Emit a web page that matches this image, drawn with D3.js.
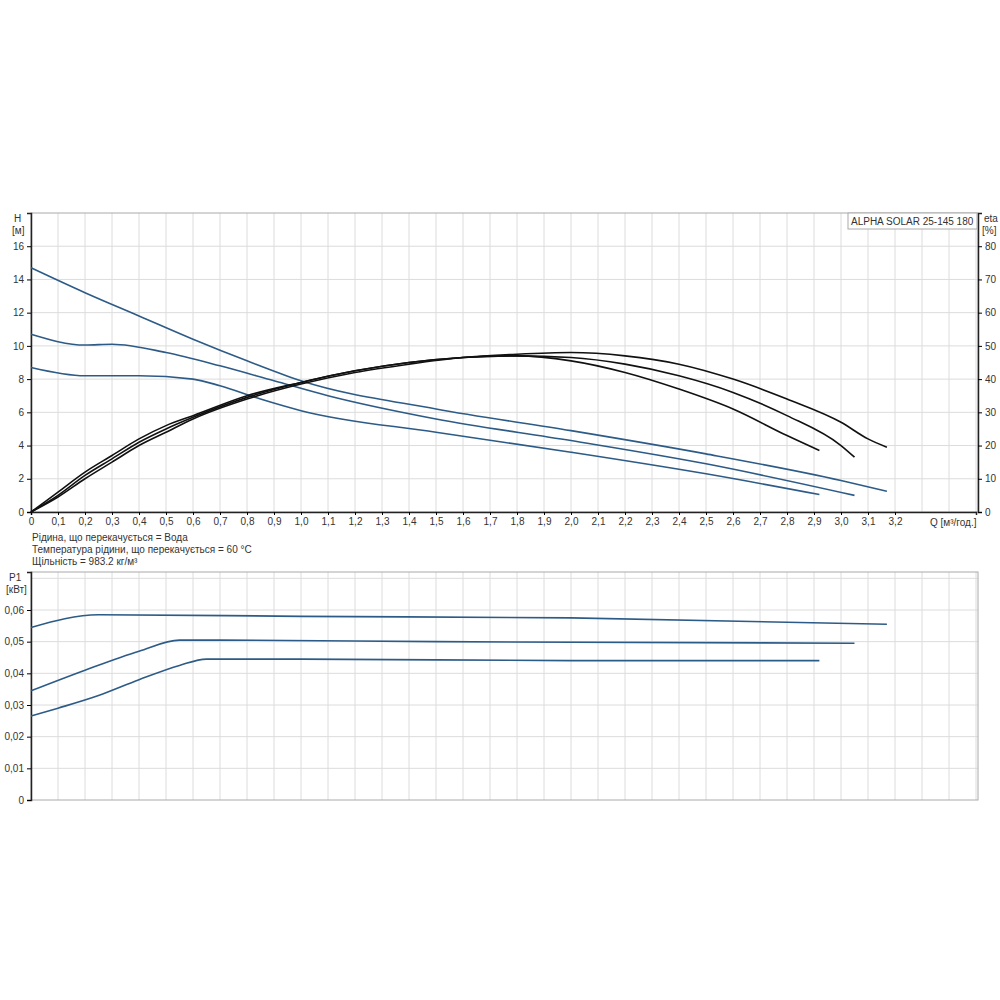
<!DOCTYPE html>
<html><head><meta charset="utf-8">
<script src="https://cdn.jsdelivr.net/npm/d3@7"></script>
<style>body{margin:0;background:#fff}text{font-family:"Liberation Sans",Arial,sans-serif;fill:#333}</style>
</head><body><svg id="c" width="1000" height="1000"></svg>
<script>
// Q [m3/h] and head curves
var hQ1 = [0, 0.2, 0.4, 0.6, 0.8, 1.0, 1.5, 2.0, 2.5, 3.0, 3.17];
var hH1 = [14.7, 13.2, 11.8, 10.4, 9.1, 7.9, 6.2, 4.9, 3.5, 1.9, 1.25];
var hQ2 = [0, 0.2, 0.3, 0.5, 0.7, 0.9, 1.1, 1.5, 2.0, 2.5, 3.05];
var hH2 = [10.7, 10.05, 10.1, 9.6, 8.8, 7.9, 7.0, 5.6, 4.3, 2.9, 1.0];
var hQ3 = [0, 0.2, 0.4, 0.6, 0.7, 0.85, 1.0, 1.5, 2.0, 2.5, 2.92];
var hH3 = [8.7, 8.2, 8.2, 8.0, 7.6, 6.8, 6.1, 4.8, 3.6, 2.3, 1.05];

// efficiency curves [%]
var eQ1 = [0, 0.1, 0.2, 0.3, 0.4, 0.5, 0.6, 0.8, 1.0, 1.2, 1.4, 1.6, 1.8, 2.0, 2.2, 2.4, 2.6, 2.8, 2.92];
var eE1 = [0, 6, 12, 17, 22, 26, 29, 35, 39, 42.5, 45, 46.5, 47, 45.5, 42, 37, 31, 23, 18.5];
var eQ2 = [0, 0.1, 0.2, 0.3, 0.4, 0.5, 0.6, 0.8, 1.0, 1.2, 1.4, 1.6, 1.8, 2.0, 2.2, 2.4, 2.6, 2.8, 3.0, 3.05];
var eE2 = [0, 5, 11, 16, 21, 25, 28.5, 34.5, 39, 42.5, 45, 46.5, 47, 46.5, 44.5, 41, 36, 29, 20, 16.5];
var eQ3 = [0, 0.1, 0.2, 0.3, 0.4, 0.5, 0.6, 0.8, 1.0, 1.2, 1.4, 1.6, 1.8, 2.0, 2.2, 2.4, 2.6, 2.8, 3.0, 3.1, 3.17];
var eE3 = [0, 4.5, 10, 15, 20, 24, 28, 34, 38.5, 42, 44.5, 46.5, 47.5, 48, 47, 44.5, 40, 34, 27, 22, 19.5];

// power curves [kW]
var pQ1 = [0, 0.25, 1.0, 2.0, 3.17];
var pP1 = [0.0545, 0.0585, 0.058, 0.0575, 0.0555];
var pQ2 = [0, 0.2, 0.4, 0.55, 0.7, 1.5, 3.05];
var pP2 = [0.0345, 0.041, 0.047, 0.0505, 0.0505, 0.050, 0.0495];
var pQ3 = [0, 0.1, 0.25, 0.4, 0.55, 0.65, 1.0, 2.0, 2.92];
var pP3 = [0.0265, 0.029, 0.033, 0.038, 0.0425, 0.0445, 0.0445, 0.044, 0.044];

var qTicks = d3.range(0, 33).map(d => d / 10);
var infoLines = ["Рідина, що перекачується = Вода", "Температура рідини, що перекачується = 60 °C", "Щільність = 983.2 кг/м³"];

var svg = d3.select("#c");
var x = d3.scaleLinear().domain([0, 3.5]).range([31, 976]);
var yH = d3.scaleLinear().domain([0, 18]).range([512, 213]);
var yE = d3.scaleLinear().domain([0, 90]).range([512, 213]);
var yP = d3.scaleLinear().domain([0, 0.072]).range([800, 572]);
var fmt = d => d3.format(".1f")(d).replace(".", ",");
var blue = "#2d5b87", grid = "#dcdcdc";

function frame(y, top, bottom, hTicks) {
  var g = svg.append("g");
  d3.range(0, 3.51, 0.1).forEach(q => g.append("line").attr("x1", x(q)).attr("x2", x(q)).attr("y1", top).attr("y2", bottom).attr("stroke", grid));
  hTicks.forEach(t => g.append("line").attr("x1", 31).attr("x2", 978).attr("y1", y(t)).attr("y2", y(t)).attr("stroke", grid));
  g.append("rect").attr("x", 31).attr("y", top).attr("width", 947).attr("height", bottom - top).attr("fill", "none").attr("stroke", "#aaa");
}

// upper chart
frame(yH, 213, 512, d3.range(2, 18, 2));
svg.append("g").attr("transform", "translate(31,0)").call(d3.axisLeft(yH).tickValues(d3.range(0, 17, 2)).tickSize(4))
  .call(g => g.selectAll("text").attr("font-size", 10));
svg.append("g").attr("transform", "translate(978,0)").call(d3.axisRight(yE).tickValues(d3.range(0, 81, 10)).tickSize(4))
  .call(g => g.selectAll("text").attr("font-size", 10));
svg.append("g").attr("transform", "translate(0,512)").call(d3.axisBottom(x).tickValues(qTicks).tickFormat(d => d === 0 ? "0" : fmt(d)).tickSize(3))
  .call(g => g.selectAll("text").attr("font-size", 10));
svg.selectAll(".domain").attr("stroke", "#222").attr("stroke-width", 1.5);
svg.append("text").attr("x", 14).attr("y", 222).attr("font-size", 10).text("H");
svg.append("text").attr("x", 12).attr("y", 234).attr("font-size", 10).text("[м]");
svg.append("text").attr("x", 984).attr("y", 222).attr("font-size", 10).text("eta");
svg.append("text").attr("x", 982).attr("y", 234).attr("font-size", 10).text("[%]");
svg.append("text").attr("x", 930).attr("y", 526).attr("font-size", 10).text("Q [м³/год.]");
svg.append("rect").attr("x", 848).attr("y", 213).attr("width", 129).attr("height", 16).attr("fill", "#fff").attr("stroke", "#aaa");
svg.append("text").attr("x", 851).attr("y", 225).attr("font-size", 10).text("ALPHA SOLAR 25-145  180");

infoLines.forEach((t, i) => svg.append("text").attr("x", 32).attr("y", 541 + i * 12).attr("font-size", 10).text(t));

// lower chart
frame(yP, 572, 800, d3.range(0.01, 0.071, 0.01));
svg.append("g").attr("transform", "translate(31,0)").call(d3.axisLeft(yP).tickValues(d3.range(0, 0.061, 0.01)).tickFormat(d => d === 0 ? "0" : d3.format(".2f")(d).replace(".", ",")).tickSize(4))
  .call(g => g.selectAll("text").attr("font-size", 10)).call(g => g.select(".domain").attr("stroke", "#222").attr("stroke-width", 1.5));
svg.append("text").attr("x", 9).attr("y", 581).attr("font-size", 10).text("P1");
svg.append("text").attr("x", 6).attr("y", 593).attr("font-size", 10).text("[кВт]");

function curve(qs, vs, y, color) {
  var line = d3.line().x(d => x(d[0])).y(d => y(d[1])).curve(d3.curveMonotoneX);
  svg.append("path").attr("d", line(qs.map((q, i) => [q, vs[i]]))).attr("fill", "none").attr("stroke", color).attr("stroke-width", 1.6);
}
curve(hQ1, hH1, yH, blue); curve(hQ2, hH2, yH, blue); curve(hQ3, hH3, yH, blue);
curve(eQ1, eE1, yE, "#111"); curve(eQ2, eE2, yE, "#111"); curve(eQ3, eE3, yE, "#111");
curve(pQ1, pP1, yP, blue); curve(pQ2, pP2, yP, blue); curve(pQ3, pP3, yP, blue);
</script></body></html>
